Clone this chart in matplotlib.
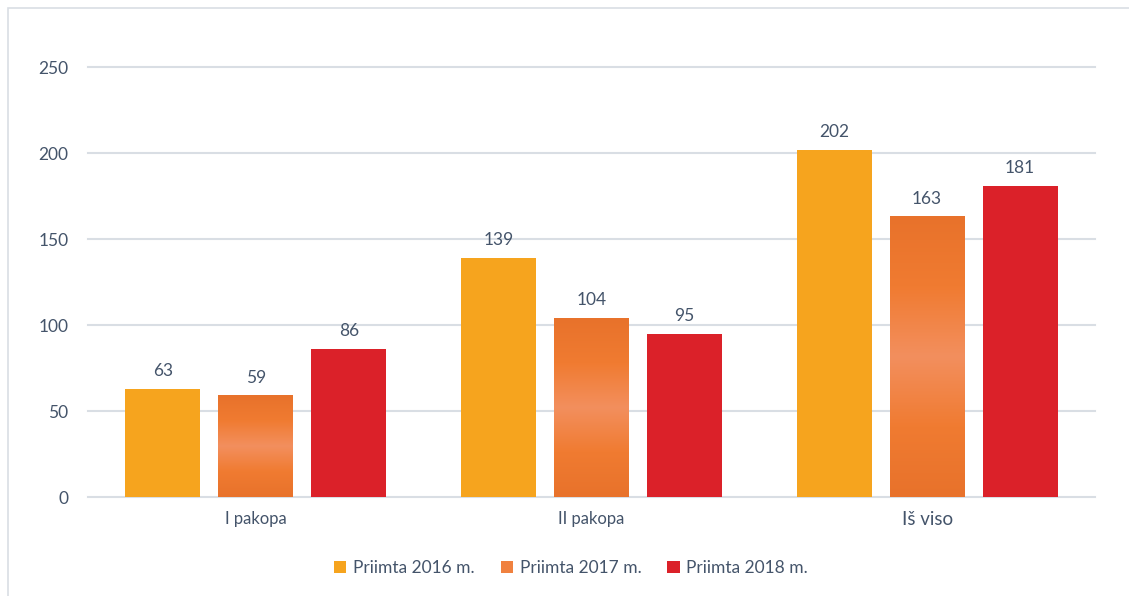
import matplotlib
matplotlib.use("Agg")
import matplotlib.pyplot as plt
import numpy as np
from matplotlib.colors import LinearSegmentedColormap
from matplotlib.patches import Rectangle

categories = ["I pakopa", "II pakopa", "Iš viso"]
series_names = ["Priimta 2016 m.", "Priimta 2017 m.", "Priimta 2018 m."]
v2016 = [63, 139, 202]
v2017 = [59, 104, 163]
v2018 = [86, 95, 181]
yticks = [0, 50, 100, 150, 200, 250]

TEXT = "#44546A"
GRID = "#D9DEE4"
C2016 = "#F6A41E"
C2018 = "#DB2129"
grad = LinearSegmentedColormap.from_list(
    "g", ["#E8722B", "#F07B31", "#F38F5E", "#F07B31", "#E8722B"])
C2017_legend = "#F0813F"

plt.rcParams['font.family'] = ['Lato', 'DejaVu Sans']

fig = plt.figure(figsize=(11.29, 5.96), dpi=100)
ax = fig.add_axes([88/1129, 1-497/596, (1095-88)/1129, (497-67)/596])

# outer frame (top and left visible)
fig.patches.append(Rectangle((8/1129, -0.1), 1.2, 1 - 8/596 + 0.1,
                             transform=fig.transFigure, fill=False,
                             edgecolor=GRID, linewidth=1.2))

x = np.arange(len(categories))
w = 0.223
off = 0.277

b1 = ax.bar(x - off, v2016, w, color=C2016, zorder=3, label=series_names[0])
b2 = ax.bar(x, v2017, w, color=C2017_legend, zorder=3, label=series_names[1])
b3 = ax.bar(x + off, v2018, w, color=C2018, zorder=3, label=series_names[2])

# gradient fill on 2017 bars
gimg = np.linspace(0, 1, 256).reshape(-1, 1)
for r in b2:
    x0, y0, ww, hh = r.get_x(), r.get_y(), r.get_width(), r.get_height()
    ax.imshow(gimg, cmap=grad, aspect='auto', extent=(x0, x0 + ww, y0, y0 + hh),
              zorder=4, interpolation='bilinear')

for bars, vals in ((b1, v2016), (b2, v2017), (b3, v2018)):
    for r, v in zip(bars, vals):
        ax.annotate(str(v), (r.get_x() + r.get_width()/2, r.get_height()),
                    xytext=(0, 7), textcoords='offset points',
                    ha='center', va='bottom', fontsize=12.5, color=TEXT)

ax.set_xlim(-0.5, 2.5)
ax.set_ylim(0, 250)
ax.set_yticks(yticks)
ax.set_yticklabels([str(t) for t in yticks])
ax.set_xticks(x)
ax.set_xticklabels(categories)
for lbl in ax.get_xticklabels():
    lbl.set_fontsize(12)
ax.get_xticklabels()[2].set_fontsize(13.5)
ax.tick_params(axis='y', length=0, pad=14, labelsize=12.5, labelcolor=TEXT)
ax.tick_params(axis='x', length=0, pad=10, labelcolor=TEXT)
ax.set_xlim(-0.5, 2.5)

for t in yticks:
    ax.axhline(t, color=GRID, linewidth=1.5, zorder=1, clip_on=False)
for s in ax.spines.values():
    s.set_visible(False)

leg = fig.legend(handles=[b1, b2, b3], labels=series_names, loc='center',
                 bbox_to_anchor=(571/1129, 1 - 568/596), ncol=3, frameon=False,
                 fontsize=12.5, handlelength=0.7, handleheight=0.7,
                 handletextpad=0.4, columnspacing=1.5, labelcolor=TEXT)

fig.savefig("out.png", dpi=100)
